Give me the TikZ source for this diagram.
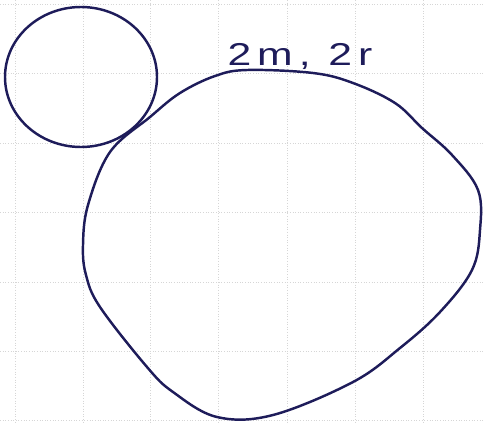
\documentclass[tikz,border=0pt]{standalone}
\usepackage{fontspec}
\newfontfamily\handfont[LetterSpace=14]{Liberation Sans}
\definecolor{inkblue}{RGB}{30,28,90}

\begin{document}
\begin{tikzpicture}[x=0.02cm,y=-0.02cm,
    ink/.style={draw=inkblue,line width=1.4pt,line cap=round,line join=round},
    paper/.style={draw=black!16,line width=0.5pt,densely dotted}]
  \useasboundingbox (0,0) rectangle (483,423);
  % squared paper
  \foreach \x in {15,83,150,218,287,355,423} \draw[paper] (\x,0) -- (\x,423);
  \foreach \y in {4,73,143,212,282,351,420} \draw[paper] (0,\y) -- (483,\y);
  % small ball
  \draw[ink] (81,77) ellipse [x radius=76, y radius=70];
  % big ball
  \draw[ink] plot[smooth cycle,tension=0.6] coordinates {
    (215,76) (247,70) (313,73) (353,83) (395,103) (422,128) (452,155)
    (478,190) (480,230) (472,270) (440,312) (400,348) (353,382) (273,415)
    (217,417) (173,392) (147,367) (100,307) (86,275) (83,245) (88,205)
    (110,152) (150,117) (180,93)};
  \node[font=\handfont\fontsize{18}{20}\selectfont,text=inkblue,
    xscale=1.35,anchor=base,inner sep=0pt] (lbl) at (300,65) {2m, 2r};
\end{tikzpicture}
\end{document}
